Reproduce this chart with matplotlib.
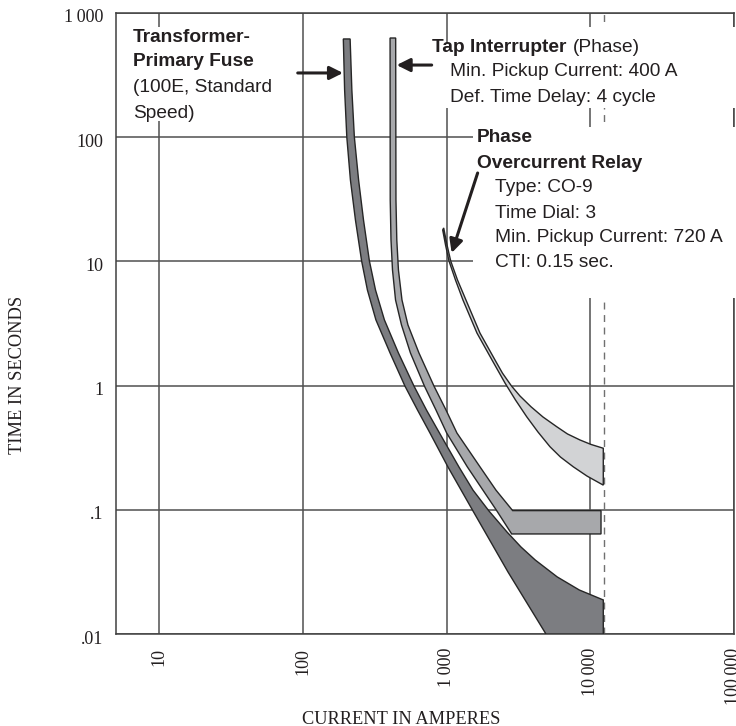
import matplotlib
matplotlib.use("Agg")
import matplotlib.pyplot as plt
import numpy as np
from matplotlib.patches import Rectangle
from matplotlib.ticker import NullLocator
from matplotlib.transforms import ScaledTranslation

# Time-current characteristic data (current in A, time in s)
fuse_melt_amps = [191, 195, 202, 214, 232, 256, 281, 322, 404, 513, 627, 766, 1022,
                  1526, 2672, 4912]
fuse_melt_sec = [618, 240, 100, 45.2, 21.5, 10.1, 5.88, 3.38, 1.83, 0.99, 0.636, 0.415,
                 0.221, 0.0978, 0.0316, 0.01]
fuse_clear_amps = [213, 219, 228, 244, 264, 290, 320, 369, 462, 593, 724, 892, 1219,
                   1526, 1971, 2630, 3291, 4140, 5888, 8390, 12310, 12310]
fuse_clear_sec = [618, 240, 100, 45.2, 21.5, 10.1, 5.88, 3.38, 1.83, 0.99, 0.636, 0.415,
                  0.221, 0.144, 0.0978, 0.0663, 0.0502, 0.0394, 0.0288, 0.0226, 0.0188,
                  0.01]

tap_min_amps = [404, 405, 410, 420, 441, 485, 560, 701, 843, 1001, 1392, 1789, 2230,
                2836, 11870]
tap_min_sec = [629, 31.2, 14.9, 8.53, 4.89, 3.08, 1.83, 0.99, 0.636, 0.415, 0.222,
               0.144, 0.0985, 0.0639, 0.0639]
tap_max_amps = [442, 444, 450, 462, 489, 538, 642, 817, 990, 1180, 1706, 2205, 2881,
                11870]
tap_max_sec = [629, 31.2, 14.9, 8.53, 4.89, 3.08, 1.83, 0.99, 0.636, 0.415, 0.222,
               0.144, 0.0985, 0.0985]

relay_fast_amps = [939, 982, 1038, 1152, 1299, 1626, 2068, 2547, 3014, 3606, 4323,
                   5239, 6197, 7609, 9478, 12310]
relay_fast_sec = [17.9, 13.6, 10.1, 7.09, 4.89, 2.65, 1.61, 1.05, 0.766, 0.562, 0.423,
                  0.322, 0.266, 0.222, 0.187, 0.158]
relay_slow_amps = [954, 1006, 1067, 1190, 1363, 1706, 2170, 2447, 2827, 3239, 3863,
                   4682, 5832, 6934, 8471, 10102, 12310]
relay_slow_sec = [18.6, 13.6, 10.1, 7.09, 4.89, 2.65, 1.61, 1.26, 0.993, 0.825, 0.676,
                  0.559, 0.467, 0.408, 0.365, 0.336, 0.313]

fault_amps = 12400

x_ticks = [10, 100, 1000, 10000, 100000]
x_tick_labels = ["10", "100", "1\u2009000", "10\u2009000", "100\u2009000"]
y_ticks = [0.01, 0.1, 1, 10, 100, 1000]
y_tick_labels = [".01", ".1", "1", "10", "100", "1\u2009000"]

W, H = 736, 726
serif = ["Liberation Serif", "DejaVu Serif"]
sans = ["Liberation Sans", "DejaVu Sans"]
ink = "#231f20"

fig = plt.figure(figsize=(W / 100, H / 100), dpi=100)
ax = fig.add_axes([116 / W, 1 - 634 / H, (734 - 116) / W, (634 - 13) / H])
ax.set_xscale("log")
ax.set_yscale("log")
ax.set_xlim(5, 1e5)
ax.set_ylim(0.01, 1000)
ax.xaxis.set_minor_locator(NullLocator())
ax.yaxis.set_minor_locator(NullLocator())
ax.set_xticks(x_ticks)
ax.set_xticklabels(x_tick_labels, rotation=90, family=serif, fontsize=13, color=ink)
ax.set_yticks(y_ticks)
ax.set_yticklabels(y_tick_labels, family=serif, fontsize=13, color=ink)
ax.tick_params(axis="both", length=0)
ax.tick_params(axis="x", pad=10)
ax.tick_params(axis="y", pad=9)
# nudge the time labels a little below their grid lines
shift = ScaledTranslation(0, -0.03, fig.dpi_scale_trans)
for lbl in ax.get_yticklabels():
    lbl.set_transform(lbl.get_transform() + shift)
ax.set_axisbelow(True)
ax.grid(True, color="#505050", lw=1.1)
for sp in ax.spines.values():
    sp.set_color("#404040")
    sp.set_linewidth(1.1)

ax.axvline(fault_amps, color="#707070", lw=1.0, ls=(0, (5, 4)), zorder=0.8)


def px(x, y):
    return x / W, 1 - y / H


# white panels behind the text blocks
for x0, y0, x1, y1 in [(126, 27, 292, 121), (428, 44, 740, 108),
                       (470, 27, 740, 44), (473, 127, 740, 298)]:
    ax.add_patch(Rectangle(px(x0, y1), (x1 - x0) / W, (y1 - y0) / H,
                           transform=fig.transFigure, facecolor="white",
                           edgecolor="none", zorder=2.6, clip_on=False))


def band(lo_x, lo_y, hi_x, hi_y, color):
    xs = np.concatenate([lo_x, hi_x[::-1]])
    ys = np.concatenate([lo_y, hi_y[::-1]])
    ax.fill(xs, ys, facecolor=color, edgecolor="#262626", lw=1.0, zorder=3,
            joinstyle="miter")


band(fuse_melt_amps, fuse_melt_sec, fuse_clear_amps, fuse_clear_sec, "#7c7d81")
band(tap_min_amps, tap_min_sec, tap_max_amps, tap_max_sec, "#a7a8ab")
band(relay_fast_amps, relay_fast_sec, relay_slow_amps, relay_slow_sec, "#d2d3d5")

arrow = dict(arrowstyle="-|>", color=ink, lw=2.2, mutation_scale=20, shrinkA=0, shrinkB=0)
ax.annotate("", xy=(190, 329), xytext=(92, 329), arrowprops=arrow, zorder=5)
ax.annotate("", xy=(449, 381), xytext=(787, 381), arrowprops=arrow, zorder=5)
ax.annotate("", xy=(1084, 11.7), xytext=(1644, 51.5), arrowprops=arrow, zorder=5)


def label(x, y, s, bold=False, size=13.8):
    fig.text(*px(x, y), s, ha="left", va="center", family=sans, fontsize=size,
             fontweight="bold" if bold else "normal", color=ink)


label(133, 37, "Transformer-", bold=True)
label(133, 62, "Primary Fuse", bold=True)
label(133, 88, "(100E, Standard")
label(133, 113, "Speed)")

label(432, 47, "Tap Interrupter", bold=True)
label(573, 47, "(Phase)")
label(450, 72, "Min. Pickup Current: 400 A")
label(450, 97, "Def. Time Delay: 4 cycle")

label(477, 137, "Phase", bold=True)
label(477, 163, "Overcurrent Relay", bold=True)
label(495, 188, "Type: CO-9")
label(495, 213, "Time Dial: 3")
label(495, 238, "Min. Pickup Current: 720 A")
label(495, 263, "CTI: 0.15 sec.")

fig.text(*px(401, 719), "CURRENT IN AMPERES", ha="center", va="center",
         family=serif, fontsize=13.2, color=ink)
fig.text(*px(18, 375), "TIME IN SECONDS", ha="center", va="center", rotation=90,
         family=serif, fontsize=13.2, color=ink)

fig.savefig("out.png", dpi=100)
